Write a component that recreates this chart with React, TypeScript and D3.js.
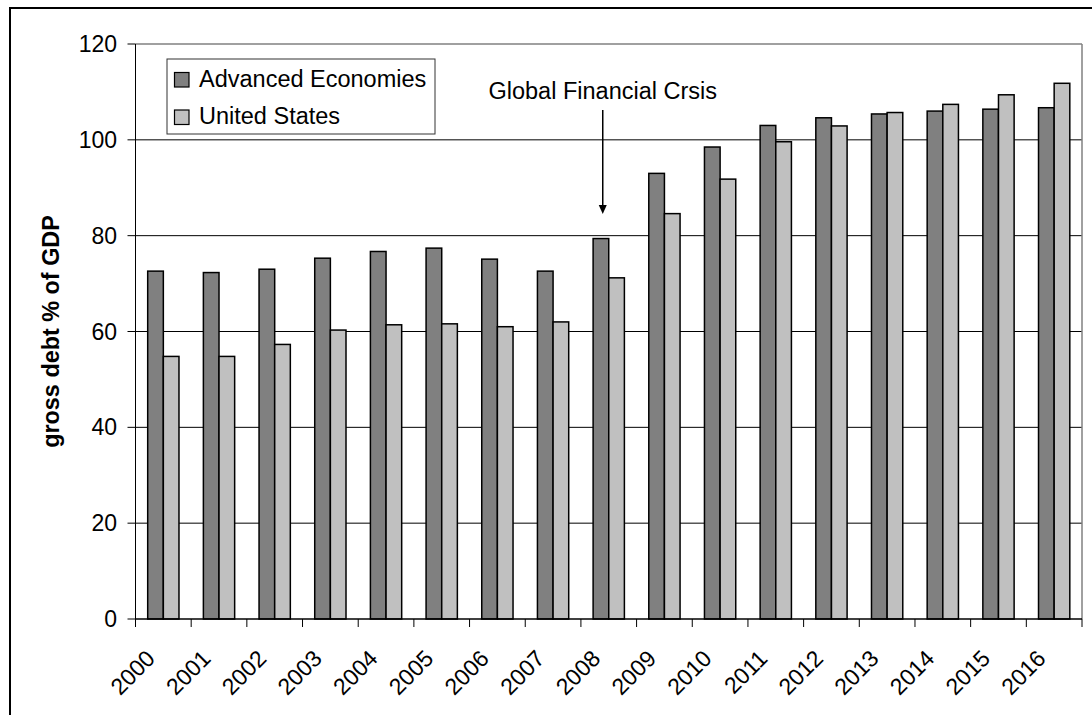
import React from "react";
import * as d3 from "d3";

const years = ["2000","2001","2002","2003","2004","2005","2006","2007","2008","2009","2010","2011","2012","2013","2014","2015","2016"];
const advancedEconomies = [72.6, 72.3, 73.0, 75.3, 76.7, 77.4, 75.1, 72.6, 79.4, 93.0, 98.5, 103.0, 104.6, 105.4, 106.0, 106.4, 106.7];
const unitedStates = [54.8, 54.8, 57.3, 60.3, 61.4, 61.6, 61.0, 62.0, 71.2, 84.6, 91.8, 99.6, 102.9, 105.7, 107.4, 109.4, 111.8];
const yTicks = [0, 20, 40, 60, 80, 100, 120];
const seriesNames = ["Advanced Economies", "United States"];
const seriesColors = ["#808080", "#C0C0C0"];
const annotationYear = "2008";
const annotationText = "Global Financial Crsis";

const FONT = "'Liberation Sans', Arial, sans-serif";

export default function App() {
  const W = 1092, H = 715;
  const left = 135.5, right = 1082, top = 44, bottom = 619;

  const x = d3.scaleBand<string>().domain(years).range([left, right]).paddingInner(0).paddingOuter(0);
  const xs = d3.scaleBand<string>().domain(["a", "u"]).range([0, x.bandwidth()]).paddingInner(0).paddingOuter(0.78);
  const y = d3.scaleLinear().domain([0, 120]).range([bottom, top]);

  const series = [advancedEconomies, unitedStates];
  const keys = ["a", "u"];

  const boundaries = years.map((yr) => x(yr) as number).concat([right]);
  const arrowX = (x(annotationYear) as number) + x.bandwidth() / 2 - 6;

  return (
    <svg width={W} height={H} style={{ position: "absolute", left: 0, top: 0, background: "#fff" }} fontFamily={FONT}>
      <rect x={0} y={0} width={W} height={H} fill="#fff" />
      {/* outer chart border */}
      <rect x={10} y={8} width={W + 20} height={H + 20} fill="none" stroke="#000" strokeWidth={2} />

      {/* gridlines */}
      {yTicks.filter((t) => t > 0 && t < 120).map((t) => (
        <line key={"g" + t} x1={left} x2={right} y1={y(t)} y2={y(t)} stroke="#000" strokeWidth={1} />
      ))}
      {/* plot border top/right */}
      <line x1={left} x2={right} y1={y(120)} y2={y(120)} stroke="#808080" strokeWidth={1.5} />
      <line x1={right} x2={right} y1={y(120)} y2={y(0)} stroke="#808080" strokeWidth={1.5} />

      {/* bars */}
      {years.map((yr, i) => (
        <g key={yr} transform={`translate(${x(yr)},0)`}>
          {series.map((s, k) => (
            <rect
              key={k}
              x={xs(keys[k]) as number}
              y={y(s[i])}
              width={xs.bandwidth()}
              height={y(0) - y(s[i])}
              fill={seriesColors[k]}
              stroke="#000"
              strokeWidth={1.5}
            />
          ))}
        </g>
      ))}

      {/* y axis */}
      <line x1={left} x2={left} y1={y(120)} y2={y(0)} stroke="#000" strokeWidth={1} />
      {yTicks.map((t) => (
        <g key={"y" + t}>
          <line x1={left - 8} x2={left} y1={y(t)} y2={y(t)} stroke="#000" strokeWidth={1} />
          <text x={117} y={y(t) + 8} textAnchor="end" fontSize={23} fill="#000">{t}</text>
        </g>
      ))}

      {/* x axis */}
      <line x1={left} x2={right} y1={y(0)} y2={y(0)} stroke="#000" strokeWidth={1.5} />
      {boundaries.map((bx, i) => (
        <line key={"xt" + i} x1={bx} x2={bx} y1={y(0)} y2={y(0) + 8} stroke="#000" strokeWidth={1} />
      ))}
      {years.map((yr) => {
        const cx = (x(yr) as number) + x.bandwidth() / 2;
        return (
          <text key={"xl" + yr} transform={`translate(${cx - 7},660) rotate(-45)`} textAnchor="end" fontSize={23} fill="#000">
            {yr}
          </text>
        );
      })}

      {/* y axis title */}
      <text transform={`translate(59,${(top + bottom) / 2}) rotate(-90)`} textAnchor="middle" fontSize={23.4} fontWeight="bold" fill="#000">
        gross debt % of GDP
      </text>

      {/* annotation */}
      <text x={arrowX} y={99} textAnchor="middle" fontSize={23.5} fill="#000">{annotationText}</text>
      <line x1={arrowX} x2={arrowX} y1={110} y2={205} stroke="#000" strokeWidth={1.5} />
      <path d={`M${arrowX - 4},205 L${arrowX + 4},205 L${arrowX},214 Z`} fill="#000" />

      {/* legend */}
      <rect x={167} y={59} width={268} height={75} fill="#fff" stroke="#333" strokeWidth={1} />
      {seriesNames.map((name, k) => (
        <g key={name}>
          <rect x={174.5} y={72.5 + k * 37.5} width={14.5} height={14.5} fill={seriesColors[k]} stroke="#000" strokeWidth={1.2} />
          <text x={199} y={87.3 + k * 37} fontSize={23.5} fill="#000">{name}</text>
        </g>
      ))}
    </svg>
  );
}
